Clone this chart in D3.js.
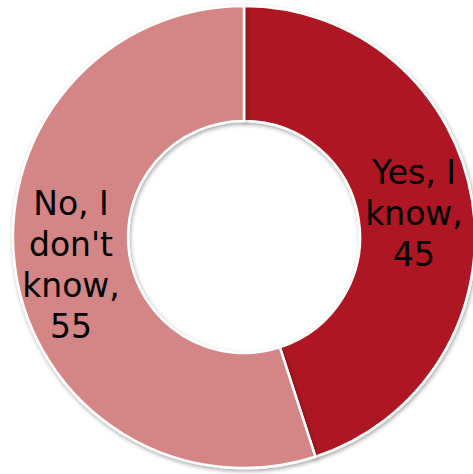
<!DOCTYPE html>
<html><head><meta charset="utf-8">
<script src="https://cdn.jsdelivr.net/npm/d3@7"></script>
<style>body{margin:0;background:#fff}svg{display:block}</style>
</head><body>
<svg id="c" width="473" height="474"></svg>
<script>
const categories = ["Yes, I know", "No, I don't know"];
const values = [45, 55];
const colors = ["#AD1920", "#D48585"];
const labelLines = [["Yes, I", "know,", "45"], ["No, I", "don't", "know,", "55"]];

const svg = d3.select("#c");
const cx = 244, cy = 237, R = 231, r = 116;
const defs = svg.append("defs");
const f = defs.append("filter").attr("id","sh").attr("x","-10%").attr("y","-10%").attr("width","120%").attr("height","120%");
f.append("feDropShadow").attr("dx",1).attr("dy",2).attr("stdDeviation",2).attr("flood-color","#000").attr("flood-opacity",0.35);

const pie = d3.pie().sort(null).value(d => d)(values);
const arc = d3.arc().innerRadius(r).outerRadius(R);
const g = svg.append("g").attr("transform", `translate(${cx},${cy})`);
g.selectAll("path").data(pie).join("path")
  .attr("d", arc).attr("fill", (d,i) => colors[i])
  .attr("stroke", "#fff").attr("stroke-width", 2.5)
  .attr("filter","url(#sh)");

const labelPos = [[414, 184], [71, 215]];
const lh = 41;
labelLines.forEach((lines, i) => {
  const t = svg.append("text").attr("text-anchor","middle")
    .attr("font-family","DejaVu Sans, Verdana, sans-serif").attr("font-size",33).attr("fill","#000");
  lines.forEach((l, j) => t.append("tspan").attr("x", labelPos[i][0]).attr("y", labelPos[i][1] + j*lh).text(l));
});
</script>
</body></html>
